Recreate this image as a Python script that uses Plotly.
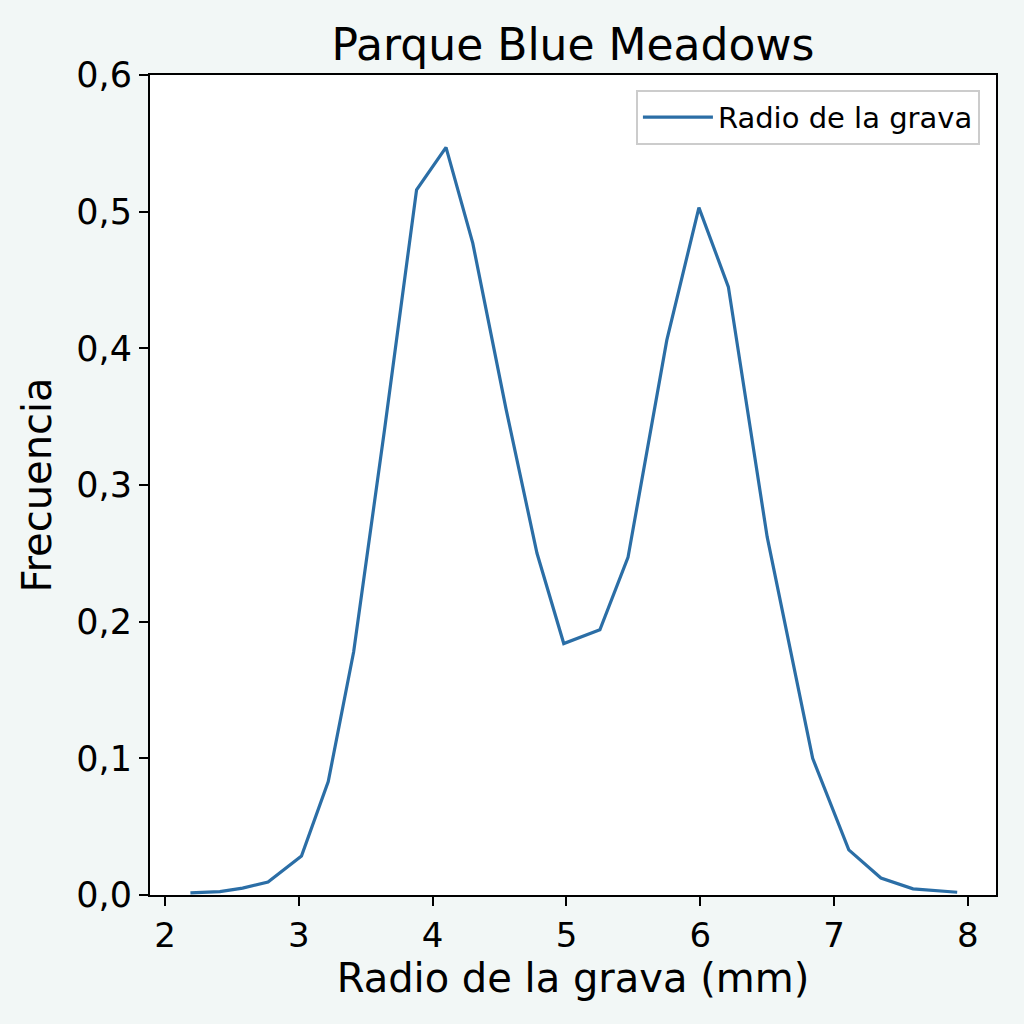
import plotly.graph_objects as go

radio_mm = [2.19, 2.41, 2.58, 2.77, 3.02, 3.22, 3.41, 3.64, 3.88, 4.10, 4.30, 4.55,
            4.78, 4.98, 5.25, 5.46, 5.75, 5.99, 6.21, 6.50, 6.84, 7.11, 7.35, 7.59, 7.92]
frecuencia = [0.0015, 0.0025, 0.005, 0.0095, 0.0285, 0.083, 0.178, 0.34, 0.516, 0.547,
              0.477, 0.355, 0.250, 0.184, 0.194, 0.247, 0.406, 0.503, 0.445, 0.262,
              0.100, 0.033, 0.0124, 0.0045, 0.002]
x_ticks = [2, 3, 4, 5, 6, 7, 8]
y_ticks = [0.0, 0.1, 0.2, 0.3, 0.4, 0.5, 0.6]

FONT = "DejaVu Sans"

fig = go.Figure()
fig.add_trace(go.Scatter(
    x=radio_mm, y=frecuencia, mode="lines", name="Radio de la grava",
    line=dict(color="#2b6ea6", width=3.2),
))

fig.update_layout(
    width=1024, height=1024,
    margin=dict(l=150, r=28, t=75, b=129),
    paper_bgcolor="#f2f7f6",
    plot_bgcolor="#ffffff",
    separators=", ",
    font=dict(family=FONT, color="#000000"),
    title=dict(text="Parque Blue Meadows", x=0.5595, xanchor="center",
               y=0.956, yanchor="middle", font=dict(size=44, family=FONT)),
    showlegend=True,
    legend=dict(x=0.981, y=0.982, xanchor="right", yanchor="top",
                bgcolor="#ffffff", bordercolor="#cccccc", borderwidth=2,
                itemwidth=70,
                font=dict(size=29, family=FONT)),
)
fig.update_xaxes(
    range=[1.888, 8.21], tickvals=x_ticks, ticks="outside", ticklen=9, tickwidth=2,
    tickcolor="#000000", showline=True, linecolor="#000000", linewidth=2, mirror=True,
    showgrid=False, zeroline=False, tickfont=dict(size=34, family=FONT),
    title=dict(text="Radio de la grava (mm)", font=dict(size=40, family=FONT), standoff=10),
)
fig.update_yaxes(
    range=[0, 0.6], tickvals=y_ticks, tickformat=".1f", ticks="outside", ticklen=9, tickwidth=2,
    tickcolor="#000000", showline=True, linecolor="#000000", linewidth=2, mirror=True,
    showgrid=False, zeroline=False, tickfont=dict(size=35, family=FONT),
    title=dict(text="Frecuencia", font=dict(size=40, family=FONT), standoff=12),
)

fig.write_html("out.html")
